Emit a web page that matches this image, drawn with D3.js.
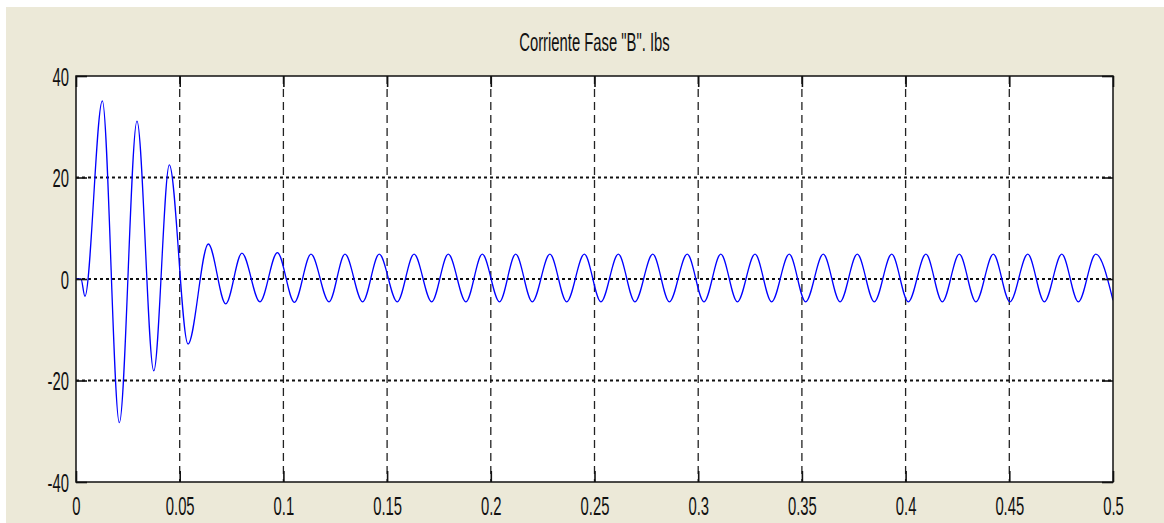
<!DOCTYPE html>
<html>
<head>
<meta charset="utf-8">
<script src="https://cdn.jsdelivr.net/npm/d3@7"></script>
<style>
  body { margin: 0; background: #fff; }
  text { font-family: "Liberation Sans", Arial, sans-serif; fill: #111; }
</style>
</head>
<body>
<svg id="chart" width="1164" height="523"></svg>
<script>
// ticks
const xTicks = [0, 0.05, 0.1, 0.15, 0.2, 0.25, 0.3, 0.35, 0.4, 0.45, 0.5];
const yTicks = [-40, -20, 0, 20, 40];

// current Ibs: start, peaks, troughs
const startT = [0, 0.0024, 0.0043];
const startV = [0, 0, -3.4];

const peakT = [0.0127, 0.0294, 0.0450, 0.0638, 0.0800, 0.0971, 0.1133, 0.1297, 0.1462, 0.1630,
               0.1795, 0.1959, 0.2120, 0.2285, 0.2451, 0.2615, 0.2781, 0.2947, 0.3109, 0.3274,
               0.3439, 0.3603, 0.3767, 0.3933, 0.4098, 0.4259, 0.4423, 0.4589, 0.4753, 0.4917];
const peakV = [35.1, 31.1, 22.5, 6.9, 5.1, 5.2, 4.9, 4.9, 4.9, 4.9,
               4.9, 4.9, 4.9, 4.9, 4.9, 4.9, 4.9, 4.9, 4.9, 4.9,
               4.9, 4.9, 4.9, 4.9, 4.9, 4.9, 4.9, 4.9, 4.9, 4.9];

const troughT = [0.0209, 0.0375, 0.0540, 0.0722, 0.0887, 0.1053, 0.1220, 0.1382, 0.1549, 0.1715,
                 0.1880, 0.2042, 0.2200, 0.2366, 0.2531, 0.2695, 0.2861, 0.3028, 0.3189, 0.3354,
                 0.3518, 0.3684, 0.3849, 0.4013, 0.4177, 0.4339, 0.4503, 0.4669, 0.4833, 0.5000];
const troughV = [-28.3, -18.1, -12.8, -4.9, -4.5, -4.6, -4.5, -4.5, -4.5, -4.5,
                 -4.5, -4.5, -4.5, -4.5, -4.5, -4.5, -4.5, -4.5, -4.5, -4.5,
                 -4.5, -4.5, -4.5, -4.5, -4.5, -4.5, -4.5, -4.5, -4.5, -4.2];

const title = 'Corriente Fase "B". Ibs';

const points = []
  .concat(startT.map((t, i) => [t, startV[i]]))
  .concat(peakT.map((t, i) => [t, peakV[i]]))
  .concat(troughT.map((t, i) => [t, troughV[i]]))
  .sort((a, b) => a[0] - b[0]);

const W = 1164, H = 523;
const margin = { top: 76, right: 51, bottom: 41, left: 76 };
const innerW = W - margin.left - margin.right;
const innerH = H - margin.top - margin.bottom;
const squeeze = 0.57;

const svg = d3.select("#chart");

// figure background with the thin white edge at top/left
svg.append("rect").attr("x", 6).attr("y", 7).attr("width", W - 6).attr("height", H - 7)
  .attr("fill", "#ECE9D8");

const g = svg.append("g").attr("transform", `translate(${margin.left},${margin.top})`);

const x = d3.scaleLinear().domain([0, 0.5]).range([0, innerW]);
const y = d3.scaleLinear().domain([-40, 40]).range([innerH, 0]);

g.append("rect").attr("width", innerW).attr("height", innerH).attr("fill", "#fff");

// grid
g.append("g").selectAll("line")
  .data(xTicks.slice(1, -1))
  .join("line")
    .attr("x1", d => x(d)).attr("x2", d => x(d))
    .attr("y1", 0).attr("y2", innerH)
    .attr("stroke", "#222").attr("stroke-width", 1.3)
    .attr("stroke-dasharray", "8,5");

g.append("g").selectAll("line")
  .data(yTicks.slice(1, -1))
  .join("line")
    .attr("x1", 0).attr("x2", innerW)
    .attr("y1", d => y(d)).attr("y2", d => y(d))
    .attr("stroke", "#111").attr("stroke-width", 2)
    .attr("stroke-dasharray", "3,3");

// trace
g.append("clipPath").attr("id", "clip")
  .append("rect").attr("width", innerW).attr("height", innerH);

const line = d3.line()
  .x(d => x(d[0]))
  .y(d => y(d[1]))
  .curve(d3.curveMonotoneX);

g.append("path")
  .datum(points)
  .attr("clip-path", "url(#clip)")
  .attr("fill", "none")
  .attr("stroke", "#0000FF")
  .attr("stroke-width", 1.3)
  .attr("d", line);

// axes, ticks pointing inwards
const tickLen = 11;
const fmt = d => String(d);

const xAxis = g.append("g").attr("transform", `translate(0,${innerH})`)
  .call(d3.axisBottom(x).tickValues(xTicks).tickSizeInner(-tickLen).tickSizeOuter(0)
    .tickPadding(15).tickFormat(fmt));

const yAxis = g.append("g")
  .call(d3.axisLeft(y).tickValues(yTicks).tickSizeInner(-tickLen).tickSizeOuter(0)
    .tickFormat(fmt));

g.append("g")
  .call(d3.axisTop(x).tickValues(xTicks).tickSizeInner(-tickLen).tickSizeOuter(0).tickFormat(""));
g.append("g").attr("transform", `translate(${innerW},0)`)
  .call(d3.axisRight(y).tickValues(yTicks).tickSizeInner(-tickLen).tickSizeOuter(0).tickFormat(""));

g.selectAll(".domain").remove();
g.selectAll(".tick line").attr("stroke", "#111").attr("stroke-width", 1.6);

xAxis.selectAll("text")
  .attr("font-size", 26)
  .attr("transform", `scale(${squeeze},1)`);

yAxis.selectAll("text")
  .attr("font-size", 26)
  .attr("x", -7 / squeeze)
  .attr("dy", "0.36em")
  .attr("transform", `scale(${squeeze},1)`);

g.selectAll(".tick text").style("font-family", '"Liberation Sans", Arial, sans-serif').attr("fill", "#111");

// box
g.append("rect")
  .attr("width", innerW).attr("height", innerH)
  .attr("fill", "none").attr("stroke", "#111").attr("stroke-width", 1.5);

// title
svg.append("text")
  .attr("transform", `translate(${margin.left + innerW / 2},51) scale(${squeeze},1)`)
  .attr("text-anchor", "middle")
  .attr("font-size", 26)
  .text(title);
</script>
</body>
</html>
